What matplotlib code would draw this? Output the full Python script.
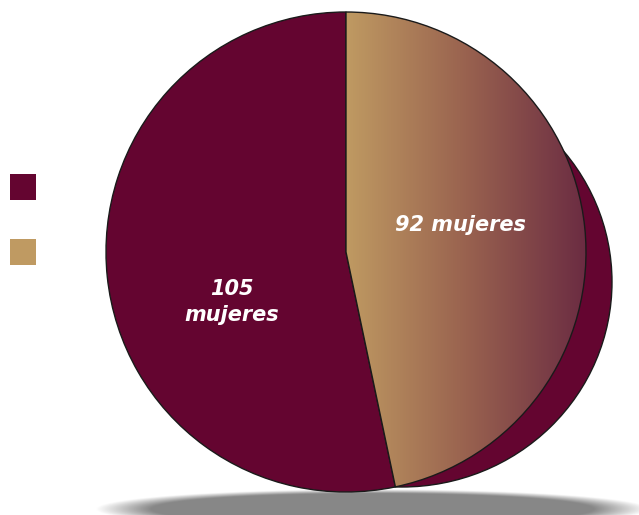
import numpy as np
import matplotlib.pyplot as plt
from matplotlib.patches import Ellipse, Rectangle
from matplotlib.colors import LinearSegmentedColormap

valores = [92, 105]
etiquetas = ["92 mujeres", "105\nmujeres"]
color_guinda = "#640530"
color_oro = "#BF9A62"
color_oscuro = "#6B2C42"

W, H = 639, 515
fig = plt.figure(figsize=(W / 100, H / 100), dpi=100)
ax = fig.add_axes([0, 0, 1, 1])
ax.set_xlim(0, W)
ax.set_ylim(0, H)
ax.set_aspect("equal")
ax.axis("off")

# sombra gris de abajo
xs = np.linspace(-1, 1, 300)
ys = np.linspace(-1, 1, 60)
gx, gy = np.meshgrid(xs, ys)
d = np.sqrt(gx ** 2 + gy ** 2)
alpha = np.clip((1 - d) * 5, 0, 1)
rgba = np.zeros((60, 300, 4))
rgba[..., :3] = 0.53
rgba[..., 3] = alpha
ax.imshow(rgba, extent=(95, 650, -14, 26), zorder=0, interpolation="bilinear")

# "volumen" del pastel detras
fondo = Ellipse((402, H - 282), 420, 410, facecolor=color_guinda, edgecolor="#1a1a1a", lw=1, zorder=1)
ax.add_patch(fondo)

cx, cy, r = 346, H - 252, 240
wedges, _ = ax.pie(valores, center=(cx, cy), radius=r, startangle=90, counterclock=False,
                   colors=["none", color_guinda],
                   wedgeprops=dict(edgecolor="#1a1a1a", linewidth=1))
for w in wedges:
    w.set_zorder(2)

# degradado del gajo de 92
cmap = LinearSegmentedColormap.from_list("grad", [color_oro, "#99624F", color_oscuro])
grad = np.linspace(0, 1, 256).reshape(1, -1)
im = ax.imshow(grad, cmap=cmap, extent=(cx, cx + r, cy - r, cy + r), aspect="auto",
               zorder=2, interpolation="bilinear")
im.set_clip_path(wedges[0])
wedges[0].set_zorder(3)

ax.set_xlim(0, W)
ax.set_ylim(0, H)

fuente = dict(color="white", fontsize=15, fontweight="bold", fontstyle="italic",
              family="DejaVu Sans", ha="center", va="center", zorder=4)
ax.text(460, H - 225, etiquetas[0], **fuente)
ax.text(232, H - 302, etiquetas[1], linespacing=1.35, **fuente)

# cuadritos de leyenda
ax.add_patch(Rectangle((10, H - 200), 26, 26, facecolor=color_guinda, edgecolor="none"))
ax.add_patch(Rectangle((10, H - 265), 26, 26, facecolor=color_oro, edgecolor="none"))

fig.savefig("out.png", dpi=100)
